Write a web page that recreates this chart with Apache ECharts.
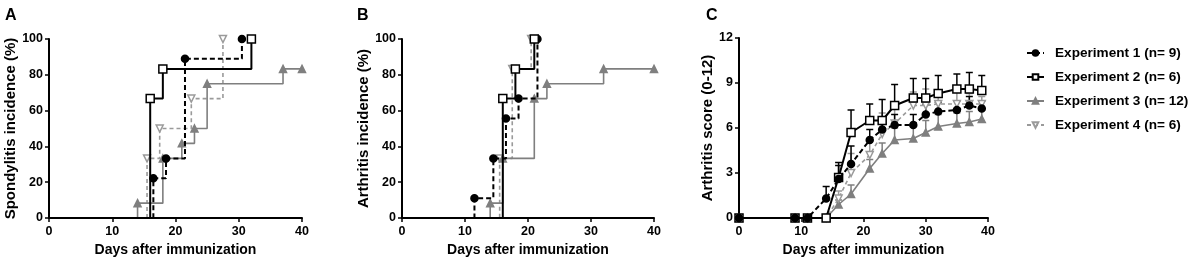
<!DOCTYPE html>
<html>
<head>
<meta charset="utf-8">
<script src="https://cdn.jsdelivr.net/npm/echarts@6/dist/echarts.min.js"></script>
<style>
  html, body { margin: 0; padding: 0; background: #fff; }
  #chart { width: 1192px; height: 266px; }
</style>
</head>
<body>
<div id="chart"></div>
<script>
// names of the four experiments
const expNames = ['Experiment 1 (n= 9)', 'Experiment 2 (n= 6)', 'Experiment 3 (n= 12)', 'Experiment 4 (n= 6)']

// panel A - spondylitis incidence (%), step curves
const aDays1 = [0, 16.5, 18.5, 21.5, 30.5]
const aPct1 = [0, 22.2, 33.3, 88.9, 100]
const aDays2 = [0, 16, 18, 32]
const aPct2 = [0, 66.7, 83.3, 100]
const aDays3 = [0, 14, 18, 21, 23, 25, 37, 40]
const aPct3 = [0, 8.3, 33.3, 41.7, 50, 75, 83.3, 83.3]
const aDays4 = [0, 15.5, 17.5, 22.5, 27.5]
const aPct4 = [0, 33.3, 50, 66.7, 100]

// panel B - arthritis incidence (%)
const bDays1 = [0, 11.5, 14.5, 16.5, 18.5, 21.5]
const bPct1 = [0, 11.1, 33.3, 55.6, 66.7, 100]
const bDays2 = [0, 16, 18, 21]
const bPct2 = [0, 66.7, 83.3, 100]
const bDays3 = [0, 14, 16, 21, 23, 32, 40]
const bPct3 = [0, 8.3, 33.3, 66.7, 75, 83.3, 83.3]
const bDays4 = [0, 15.5, 17.5, 20.5]
const bPct4 = [0, 33.3, 83.3, 100]

// panel C - arthritis score, mean and mean + SEM
const cDays = [0, 9, 11, 14, 16, 18, 21, 23, 25, 28, 30, 32, 35, 37, 39]
const cMean1 = [0, 0, 0, 1.3, 2.6, 3.6, 5.2, 5.9, 6.2, 6.2, 6.9, 7.1, 7.2, 7.5, 7.3]
const cUp1 = [0, 0, 0, 2.1, 3.5, 4.8, 5.9, 6.6, 6.9, 6.9, 7.6, 7.7, 7.8, 8.1, 7.8]
const cMean2 = [0, 0, 0, 0, 2.7, 5.7, 6.5, 6.5, 7.5, 8.0, 8.0, 8.3, 8.6, 8.6, 8.5]
const cUp2 = [0, 0, 0, 0, 3.7, 7.2, 7.6, 7.9, 8.9, 9.3, 9.3, 9.5, 9.6, 9.7, 9.5]
const cMean3 = [0, 0, 0, 0, 0.9, 1.6, 3.3, 4.3, 5.2, 5.3, 5.7, 6.1, 6.3, 6.4, 6.6]
const cUp3 = [0, 0, 0, 0, 1.2, 2.2, 3.9, 5.0, 6.0, 6.2, 6.5, 6.9, 7.0, 7.1, 7.2]
const cMean4 = [0, 0, 0, 0, 1.3, 3.0, 4.2, 5.6, 6.3, 7.5, 7.5, 7.6, 7.6, 7.6, 7.6]
const cUp4 = [0, 0, 0, 0, 1.8, 4.3, 5.2, 7.0, 7.3, 8.4, 8.6, 8.5, 8.6, 8.3, 8.1]

const FONT = 'Liberation Sans, Arial, sans-serif'

// look of each experiment
const styles = [
  { color: '#000', symbol: 'circle', size: 7, fill: '#000', dash: [5, 3], width: 2, rotate: 0 },
  { color: '#000', symbol: 'rect', size: 8, fill: '#fff', dash: 'solid', width: 2, rotate: 0 },
  { color: '#7f7f7f', symbol: 'triangle', size: 7, fill: '#7f7f7f', dash: 'solid', width: 1.6, rotate: 0 },
  { color: '#9a9a9a', symbol: 'triangle', size: 7, fill: '#fff', dash: [4, 3], width: 1.6, rotate: 180 }
]

const grids = [
  { left: 49, width: 253, top: 39, height: 179 },
  { left: 402, width: 252, top: 39, height: 179 },
  { left: 739, width: 249, top: 38, height: 180 }
]

function xAxisFor (i) {
  return {
    type: 'value', gridIndex: i, min: 0, max: 40, interval: 10,
    name: 'Days after immunization', nameLocation: 'middle', nameGap: 25,
    nameTextStyle: { fontFamily: FONT, fontWeight: 'bold', fontSize: 14, color: '#000' },
    axisLine: { show: true, onZero: false, lineStyle: { color: '#000', width: 2 } },
    axisTick: { show: true, length: 4, lineStyle: { color: '#000', width: 1.5 } },
    axisLabel: { margin: 7, fontFamily: FONT, fontWeight: 'bold', fontSize: 12.5, color: '#000' },
    splitLine: { show: false }
  }
}

function yAxisFor (i, name, max, interval, gap) {
  return {
    type: 'value', gridIndex: i, min: 0, max: max, interval: interval,
    name: name, nameLocation: 'middle', nameGap: gap,
    nameTextStyle: { fontFamily: FONT, fontWeight: 'bold', fontSize: 15, color: '#000' },
    axisLine: { show: true, onZero: false, lineStyle: { color: '#000', width: 2 } },
    axisTick: { show: true, length: 4, lineStyle: { color: '#000', width: 1.5 } },
    axisLabel: { margin: 6, fontFamily: FONT, fontWeight: 'bold', fontSize: 12.5, color: '#000' },
    splitLine: { show: false }
  }
}

function stepSeries (k, gi, days, pct) {
  const s = styles[k]
  return {
    name: expNames[k], type: 'line', step: 'end', xAxisIndex: gi, yAxisIndex: gi,
    data: days.map((d, j) => j === 0 ? { value: [d, pct[j]], symbol: 'none' } : [d, pct[j]]),
    symbol: s.symbol, symbolSize: s.size, symbolRotate: s.rotate,
    showAllSymbol: true, clip: false,
    lineStyle: { color: s.color, width: s.width, type: s.dash },
    itemStyle: { color: s.fill, borderColor: s.color, borderWidth: 1.5 },
    z: k === 1 ? 6 : (k === 0 ? 5 : (k === 2 ? 4 : 3)),
    animation: false
  }
}

function meanSeries (k, mean) {
  const s = styles[k]
  return {
    name: expNames[k], type: 'line', xAxisIndex: 2, yAxisIndex: 2,
    data: cDays.map((d, j) => [d, mean[j]]),
    symbol: s.symbol, symbolSize: s.size, symbolRotate: s.rotate,
    showAllSymbol: true, clip: false,
    lineStyle: { color: s.color, width: s.width, type: s.dash },
    itemStyle: { color: s.fill, borderColor: s.color, borderWidth: 1.5 },
    z: k === 0 ? 7 : (k === 1 ? 6 : 4),
    animation: false
  }
}

function errSeries (k, mean, up) {
  const s = styles[k]
  return {
    name: expNames[k], type: 'custom', xAxisIndex: 2, yAxisIndex: 2,
    data: cDays.map((d, j) => [d, mean[j], up[j]]),
    encode: { x: 0, y: 1 },
    z: 2,
    renderItem (params, api) {
      const lo = api.coord([api.value(0), api.value(1)])
      const hi = api.coord([api.value(0), api.value(2)])
      if (lo[1] - hi[1] < 1) return null
      const st = { stroke: s.color, lineWidth: 1.5 }
      return {
        type: 'group',
        children: [
          { type: 'line', shape: { x1: lo[0], y1: lo[1], x2: hi[0], y2: hi[1] }, style: st },
          { type: 'line', shape: { x1: hi[0] - 3.5, y1: hi[1], x2: hi[0] + 3.5, y2: hi[1] }, style: st }
        ]
      }
    },
    animation: false
  }
}

const chart = echarts.init(document.getElementById('chart'))

const series = [
  stepSeries(2, 0, aDays3, aPct3), stepSeries(3, 0, aDays4, aPct4),
  stepSeries(0, 0, aDays1, aPct1), stepSeries(1, 0, aDays2, aPct2),
  stepSeries(2, 1, bDays3, bPct3), stepSeries(3, 1, bDays4, bPct4),
  stepSeries(0, 1, bDays1, bPct1), stepSeries(1, 1, bDays2, bPct2),
  errSeries(2, cMean3, cUp3), errSeries(3, cMean4, cUp4),
  errSeries(0, cMean1, cUp1), errSeries(1, cMean2, cUp2),
  meanSeries(2, cMean3), meanSeries(3, cMean4),
  meanSeries(0, cMean1), meanSeries(1, cMean2)
]

chart.setOption({
  backgroundColor: '#fff',
  animation: false,
  title: [
    { text: 'A', left: 0, top: 3 },
    { text: 'B', left: 352, top: 3 },
    { text: 'C', left: 701, top: 3 }
  ].map(t => Object.assign(t, { textStyle: { fontFamily: FONT, fontWeight: 'bold', fontSize: 16, color: '#000' } })),
  legend: {
    data: expNames,
    orient: 'vertical', left: 1021, top: 41,
    itemWidth: 17, itemHeight: 7, itemGap: 10,
    textStyle: { fontFamily: FONT, fontWeight: 'bold', fontSize: 13.6, color: '#000', padding: [0, 0, 0, 6] }
  },
  grid: grids,
  xAxis: [xAxisFor(0), xAxisFor(1), xAxisFor(2)],
  yAxis: [
    yAxisFor(0, 'Spondylitis incidence (%)', 100, 20, 31),
    yAxisFor(1, 'Arthritis incidence (%)', 100, 20, 31),
    yAxisFor(2, 'Arthritis score (0-12)', 12, 3, 16)
  ],
  series: series
})
</script>
</body>
</html>
